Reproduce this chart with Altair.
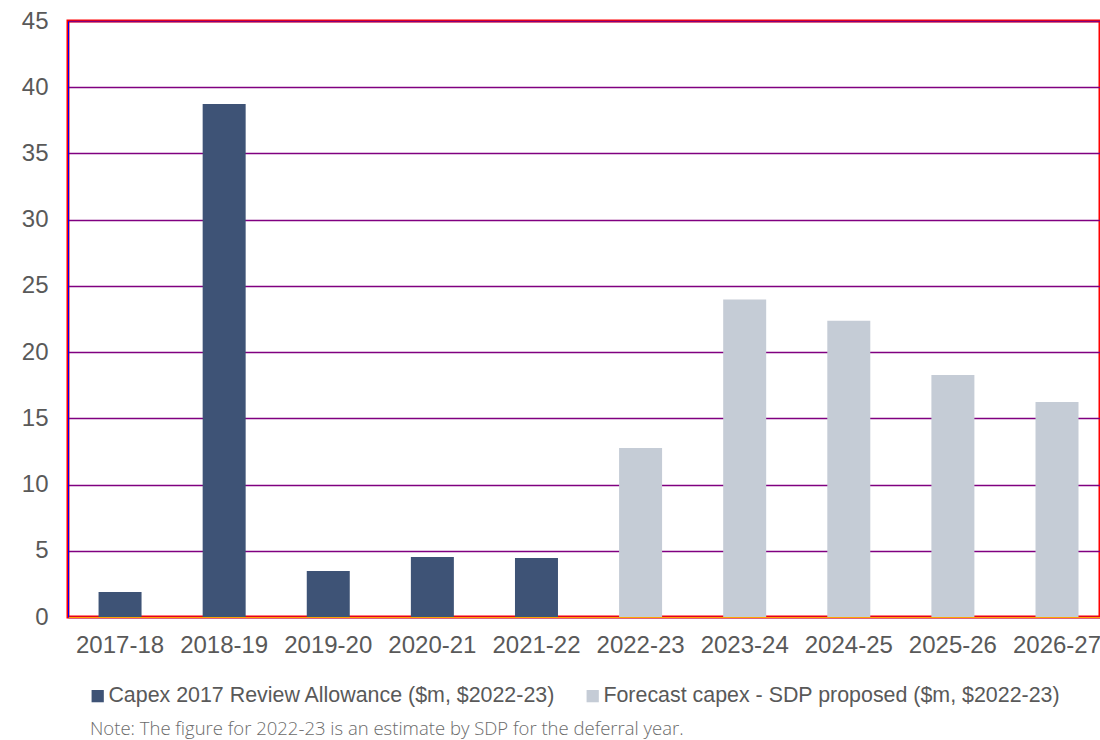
import altair as alt
import pandas as pd

years = ["2017-18", "2018-19", "2019-20", "2020-21", "2021-22",
         "2022-23", "2023-24", "2024-25", "2025-26", "2026-27"]
values = [1.88, 38.74, 3.47, 4.53, 4.46, 12.76, 23.98, 22.36, 18.28, 16.24]
series_names = ["Capex 2017 Review Allowance ($m, $2022-23)",
                "Forecast capex - SDP proposed ($m, $2022-23)"]
series_of_year = [0, 0, 0, 0, 0, 1, 1, 1, 1, 1]
colors = ["#3E5376", "#C5CCD6"]
y_ticks = [0, 5, 10, 15, 20, 25, 30, 35, 40, 45]
note = "Note: The figure for 2022-23 is an estimate by SDP for the deferral year."

df = pd.DataFrame({
    "year": years,
    "value": values,
    "series": [series_names[i] for i in series_of_year],
})

text_color = "#595959"
grid_color = "#D9D9D9"

chart = alt.Chart(df).mark_bar().encode(
    x=alt.X("year:N", sort=years,
            scale=alt.Scale(paddingInner=0.587, paddingOuter=0.25, align=0.587),
            axis=alt.Axis(title=None, labelAngle=0, labelFontSize=24,
                          labelFont="Liberation Sans", labelColor=text_color,
                          labelPadding=16, ticks=False,
                          domain=True, domainColor="orange", grid=False)),
    y=alt.Y("value:Q",
            scale=alt.Scale(domain=[0, 45], nice=False),
            axis=alt.Axis(title=None, values=y_ticks, labelFontSize=24,
                          labelFont="Liberation Sans", labelColor=text_color,
                          labelPadding=20, ticks=False, domain=True,
                          domainColor="blue",
                          grid=True, gridColor="purple", gridWidth=1.5)),
    color=alt.Color("series:N",
                    scale=alt.Scale(domain=series_names, range=colors),
                    legend=alt.Legend(orient="none", legendX=19, legendY=664,
                                      direction="horizontal", title=None,
                                      symbolType="square", symbolSize=150,
                                      symbolStrokeWidth=0,
                                      labelFontSize=21.4, labelFont="Liberation Sans",
                                      labelColor=text_color, labelOffset=0,
                                      columnPadding=26, labelLimit=700,
                                      padding=0)),
).properties(
    width=1032,
    height=596,
    padding={"left": 68, "top": 21, "right": 0, "bottom": 123},
    autosize=alt.AutoSizeParams(type="none"),
    title=alt.TitleParams(text=note, orient="bottom", anchor="start",
                          frame="group", offset=13, dx=22, fontSize=18.5,
                          font="Open Sans", fontWeight=300, color="#6B6B6B"),
).configure(background="white"
).configure_view(strokeWidth=3, stroke="red")

chart.save("out.html", embed_options={"renderer": "svg", "actions": False})
